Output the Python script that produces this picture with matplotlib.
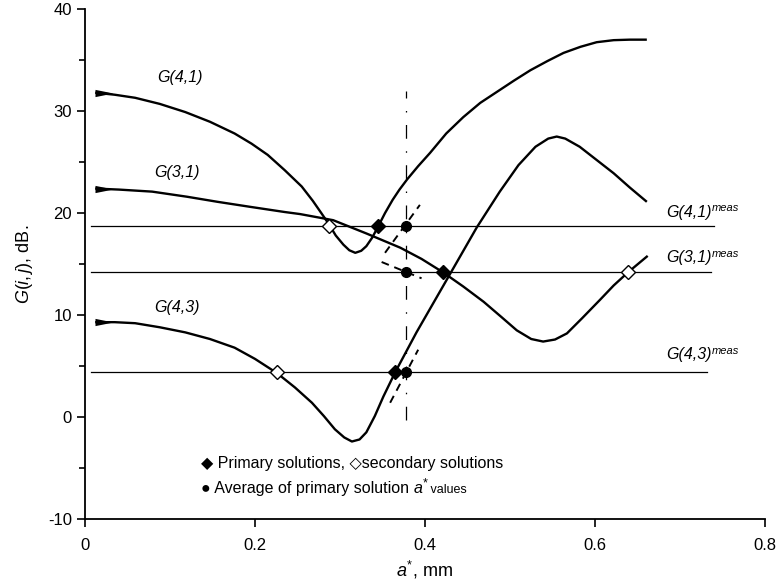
import numpy as np
import matplotlib
matplotlib.use("Agg")
import matplotlib.pyplot as plt
from matplotlib.path import Path
from matplotlib.ticker import MultipleLocator

plt.rcParams['font.family'] = ['Liberation Sans', 'DejaVu Sans']
plt.rcParams['mathtext.fontset'] = 'custom'
plt.rcParams['mathtext.rm'] = 'Liberation Sans'
plt.rcParams['mathtext.it'] = 'Liberation Sans:italic'

# curves
g41_x = [0.012, 0.035, 0.059, 0.088, 0.118, 0.147, 0.176, 0.196, 0.215, 0.235, 0.255, 0.268,
         0.278, 0.287, 0.295, 0.304, 0.311, 0.318, 0.325, 0.331, 0.338, 0.345, 0.353, 0.362,
         0.370, 0.379, 0.392, 0.406, 0.425, 0.445, 0.465, 0.485, 0.505, 0.524, 0.544, 0.563,
         0.583, 0.602, 0.622, 0.641, 0.661]
g41_y = [31.8, 31.6, 31.3, 30.7, 29.9, 28.95, 27.8, 26.8, 25.7, 24.2, 22.6, 21.2,
         20.0, 18.9, 17.8, 16.9, 16.35, 16.1, 16.3, 16.75, 17.6, 18.7, 20.0, 21.3,
         22.3, 23.3, 24.6, 25.9, 27.8, 29.4, 30.8, 31.9, 33.0, 34.0, 34.9, 35.7,
         36.3, 36.75, 36.95, 37.0, 37.0]

g31_x = [0.012, 0.040, 0.079, 0.120, 0.156, 0.195, 0.235, 0.253, 0.292, 0.331, 0.371, 0.396,
         0.421, 0.445, 0.469, 0.490, 0.508, 0.525, 0.539, 0.553, 0.567, 0.585, 0.606, 0.622,
         0.639, 0.662]
g31_y = [22.4, 22.3, 22.1, 21.6, 21.1, 20.6, 20.1, 19.9, 19.3, 18.0, 16.6, 15.5,
         14.2, 12.8, 11.3, 9.8, 8.5, 7.65, 7.4, 7.6, 8.2, 9.7, 11.5, 12.9,
         14.2, 15.8]

g43_x = [0.012, 0.035, 0.059, 0.088, 0.118, 0.147, 0.176, 0.200, 0.226, 0.247, 0.267, 0.281,
         0.294, 0.305, 0.314, 0.323, 0.331, 0.341, 0.351, 0.358, 0.365, 0.390, 0.430, 0.461,
         0.488, 0.510, 0.530, 0.545, 0.555, 0.565, 0.582, 0.602, 0.622, 0.641, 0.661]
g43_y = [9.3, 9.3, 9.2, 8.8, 8.3, 7.65, 6.8, 5.7, 4.3, 2.9, 1.4, 0.1,
         -1.2, -2.0, -2.4, -2.2, -1.5, 0.1, 2.0, 3.2, 4.4, 8.3, 14.1, 18.6,
         22.1, 24.7, 26.5, 27.3, 27.5, 27.3, 26.5, 25.2, 23.9, 22.5, 21.1]

# measured levels
meas_y = [18.7, 14.2, 4.4]
meas_x0 = [0.007, 0.007, 0.007]
meas_x1 = [0.740, 0.737, 0.732]
meas_labels = ['G(4,1)', 'G(3,1)', 'G(4,3)']
meas_label_y = [20.1, 15.6, 6.1]

# solutions
prim_x = [0.345, 0.421, 0.365]
prim_y = [18.7, 14.2, 4.4]
sec_x = [0.287, 0.639, 0.226]
sec_y = [18.7, 14.2, 4.4]
avg_x = 0.378
avg_y = [18.7, 14.2, 4.4]
vline_y = [-0.3, 32.0]

# short dashed lines through the averages
dash_x = [[0.353, 0.394], [0.349, 0.396], [0.359, 0.392]]
dash_y = [[16.1, 20.8], [15.2, 13.6], [1.4, 6.6]]

fig = plt.figure(figsize=(7.79, 5.88), dpi=100)
ax = fig.add_axes([0.1091, 0.1173, 0.8729, 0.8673])

# tapered start of each curve
taper = Path([(0, -0.2), (0, 0.2), (1, 0), (0, -0.2)],
             [Path.MOVETO, Path.LINETO, Path.LINETO, Path.CLOSEPOLY])

for xs, ys in [(g41_x, g41_y), (g31_x, g31_y), (g43_x, g43_y)]:
    ax.plot(xs, ys, color='black', lw=1.7, solid_capstyle='butt', solid_joinstyle='round')
    ax.plot(xs[0], ys[0], marker=taper, ms=26, color='black', mew=0)

for y, x0, x1 in zip(meas_y, meas_x0, meas_x1):
    ax.plot([x0, x1], [y, y], color='black', lw=0.9)

ax.plot([avg_x, avg_x], vline_y, color='black', lw=0.9, linestyle=(0, (11, 10, 1.2, 10)))

for dx, dy in zip(dash_x, dash_y):
    ax.plot(dx, dy, color='black', lw=1.4, linestyle=(0, (4, 3)))

ax.plot(prim_x, prim_y, 'D', color='black', ms=7.5, zorder=5)
ax.plot(sec_x, sec_y, 'D', mfc='white', mec='black', mew=1.0, ms=7, zorder=5)
ax.plot([avg_x] * 3, avg_y, 'o', color='black', ms=7, zorder=5)

# curve labels
ax.text(0.085, 33.3, 'G(4,1)', fontstyle='italic', fontsize=11.5, va='center')
ax.text(0.082, 24.0, 'G(3,1)', fontstyle='italic', fontsize=11.5, va='center')
ax.text(0.082, 10.7, 'G(4,3)', fontstyle='italic', fontsize=11.5, va='center')
for lab, y in zip(meas_labels, meas_label_y):
    t = ax.text(0.684, y, lab, fontstyle='italic', fontsize=11.5, va='center')
    ax.annotate('meas', xy=(1, 0.45), xycoords=t, fontstyle='italic', fontsize=8,
                va='bottom', ha='left')

# legend-like notes
ax.text(0.137, -4.6, '\u25c6 Primary solutions, \u25c7secondary solutions', fontsize=11.5, va='center')
t2 = ax.text(0.137, -7.0, '\u25cf Average of primary solution ', fontsize=11.5, va='center')
t3 = ax.annotate('a', xy=(1, 0), xycoords=t2, fontstyle='italic', fontsize=11.5,
                 va='bottom', ha='left')
ax.annotate('*', xy=(1, 0.45), xycoords=t3, fontsize=9, va='bottom', ha='left')
ax.annotate(' values', xy=(1, 0), xycoords=t3, xytext=(3, 0), textcoords='offset points',
            fontsize=9, va='bottom', ha='left')

ax.set_xlim(0, 0.8)
ax.set_ylim(-10, 40)
ax.set_xticks([0, 0.2, 0.4, 0.6, 0.8])
ax.set_xticklabels(['0', '0.2', '0.4', '0.6', '0.8'])
ax.set_yticks([-10, 0, 10, 20, 30, 40])
ax.set_yticklabels(['-10', '0', '10', '20', '30', '40'])
ax.yaxis.set_minor_locator(MultipleLocator(5))
ax.tick_params(which='major', length=6, width=1.2, labelsize=12, direction='out')
ax.tick_params(axis='x', which='major', pad=8)
ax.tick_params(which='minor', length=4.5, width=1.2, direction='out')
for s in ['top', 'right']:
    ax.spines[s].set_visible(False)
for s in ['left', 'bottom']:
    ax.spines[s].set_linewidth(1.3)

ax.set_xlabel(r'$\mathit{a}^{*}$, mm', fontsize=13, labelpad=4)
ax.set_ylabel(r'$\mathit{G(i,j)}$, dB.', fontsize=13, labelpad=9)

fig.savefig('out.png', dpi=100)
